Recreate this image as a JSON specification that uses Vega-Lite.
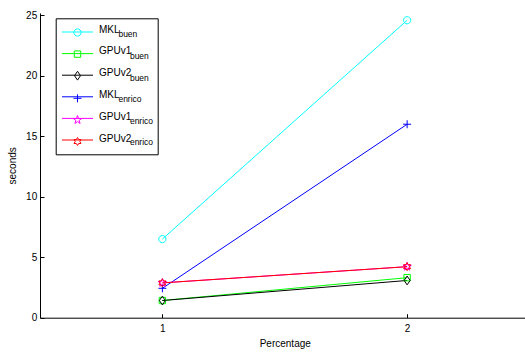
{
  "$schema": "https://vega.github.io/schema/vega-lite/v6.json",
  "width": 489.5,
  "height": 304.7,
  "autosize": "none",
  "padding": {"left": 40, "top": 13, "right": -4.5, "bottom": 36.3},
  "config": {
    "view": {"stroke": null},
    "font": "Liberation Sans",
    "axis": {
      "domainColor": "#000000", "tickColor": "#000000", "labelColor": "#000000", "titleColor": "#000000",
      "labelFont": "Liberation Sans", "titleFont": "Liberation Sans",
      "labelFontSize": 10, "titleFontSize": 10, "titleFontWeight": "normal",
      "grid": false, "domainWidth": 1, "tickWidth": 1, "labelFlush": false
    },
    "axisX": {"tickSize": -4, "labelPadding": 9.6, "titlePadding": 5},
    "axisY": {"tickSize": -4, "labelPadding": 7.3, "titlePadding": 7.7}
  },
  "datasets": {
    "main": [
      {"series": "MKL_buen", "x": 1, "y": 6.5},
      {"series": "MKL_buen", "x": 2, "y": 24.6},
      {"series": "GPUv1_buen", "x": 1, "y": 1.42},
      {"series": "GPUv1_buen", "x": 2, "y": 3.31},
      {"series": "GPUv2_buen", "x": 1, "y": 1.42},
      {"series": "GPUv2_buen", "x": 2, "y": 3.08},
      {"series": "MKL_enrico", "x": 1, "y": 2.43},
      {"series": "MKL_enrico", "x": 2, "y": 16.0},
      {"series": "GPUv1_enrico", "x": 1, "y": 2.88},
      {"series": "GPUv1_enrico", "x": 2, "y": 4.22},
      {"series": "GPUv2_enrico", "x": 1, "y": 2.88},
      {"series": "GPUv2_enrico", "x": 2, "y": 4.22}
    ],
    "entries": [
      {"entry": "MKL|buen"}, {"entry": "GPUv1|buen"}, {"entry": "GPUv2|buen"},
      {"entry": "MKL|enrico"}, {"entry": "GPUv1|enrico"}, {"entry": "GPUv2|enrico"}
    ]
  },
  "layer": [
    {
      "data": {"name": "main"},
      "mark": {"type": "line", "strokeWidth": 1},
      "encoding": {
        "x": {"field": "x", "type": "quantitative", "scale": {"domain": [0.5, 2.5], "nice": false}, "axis": {"values": [1, 2], "format": "d", "title": "Percentage"}},
        "y": {"field": "y", "type": "quantitative", "scale": {"domain": [0, 25.2], "nice": false}, "axis": {"values": [0, 5, 10, 15, 20, 25], "format": "d", "title": "seconds"}},
        "stroke": {"field": "series", "type": "nominal",
          "sort": ["MKL_buen", "GPUv1_buen", "GPUv2_buen", "MKL_enrico", "GPUv1_enrico", "GPUv2_enrico"],
          "scale": {"range": ["#00ffff", "#00ff00", "#000000", "#0000ff", "#ff00ff", "#ff0000"]},
          "legend": {
            "orient": "none", "legendX": 21.5, "legendY": 3, "title": null, "padding": 0,
            "symbolType": "stroke", "symbolSize": 961, "symbolStrokeWidth": 1, "symbolOffset": 0,
            "labelExpr": "'\u200b'", "labelFontSize": 10, "labelBaseline": "alphabetic", "labelOffset": 0,
            "rowPadding": 3.6
          }}
      }
    },
    {
      "data": {"name": "main"},
      "mark": {"type": "point", "filled": false, "size": 64, "strokeWidth": 1, "opacity": 1},
      "encoding": {
        "x": {"field": "x", "type": "quantitative"},
        "y": {"field": "y", "type": "quantitative"},
        "color": {"field": "series", "type": "nominal",
          "scale": {"domain": ["MKL_buen", "GPUv1_buen", "GPUv2_buen", "MKL_enrico", "GPUv1_enrico", "GPUv2_enrico"],
                    "range": ["#00ffff", "#00ff00", "#000000", "#0000ff", "#ff00ff", "#ff0000"]},
          "legend": {
            "orient": "none", "legendX": 32.5, "legendY": 14.5, "title": null, "padding": 0,
            "labelExpr": "split(datum.label, '_')[0]", "labelFontSize": 10, "labelColor": "#000000",
            "labelBaseline": "alphabetic", "labelOffset": 16.5, "symbolOffset": 0, "symbolSize": 64,
            "symbolStrokeWidth": 1, "rowPadding": 7.6
          }},
        "shape": {"field": "series", "type": "nominal", "legend": null,
          "scale": {"domain": ["MKL_buen", "GPUv1_buen", "GPUv2_buen", "MKL_enrico", "GPUv1_enrico", "GPUv2_enrico"],
            "range": [
              "M0.9,0A0.9,0.9 0 1,1 -0.9,0A0.9,0.9 0 1,1 0.9,0",
              "M-0.8,-0.8L0.8,-0.8L0.8,0.8L-0.8,0.8Z",
              "M0,-1.1L0.75,0L0,1.1L-0.75,0Z",
              "M-1,0L1,0M0,-1L0,1",
              "M0,-1.1L0.247,-0.34L1.046,-0.34L0.399,0.13L0.647,0.89L0,0.42L-0.647,0.89L-0.399,0.13L-1.046,-0.34L-0.247,-0.34Z",
              "M0,-1L0.289,-0.5L0.866,-0.5L0.577,0L0.866,0.5L0.289,0.5L0,1L-0.289,0.5L-0.866,0.5L-0.577,0L-0.866,-0.5L-0.289,-0.5Z"
            ]}}
      }
    },
    {
      "data": {"name": "entries"},
      "mark": {"type": "point", "opacity": 0, "filled": true},
      "encoding": {
        "fill": {"field": "entry", "type": "nominal",
          "scale": {"domain": ["MKL|buen", "GPUv1|buen", "GPUv2|buen", "MKL|enrico", "GPUv1|enrico", "GPUv2|enrico"]},
          "legend": {
            "orient": "none", "legendX": 15.7, "legendY": 5.3, "title": null, "padding": 3.7,
            "strokeColor": "#000000",
            "labelExpr": "split(datum.label, '|')[1]", "labelFontSize": 8.5, "labelColor": "#000000",
            "labelBaseline": "alphabetic", "labelOffset": 39, "symbolOffset": 0, "symbolSize": 400,
            "symbolType": "square", "symbolOpacity": 0, "symbolStrokeWidth": 0, "rowPadding": 1.6,
            "encode": {
              "labels": {"update": {
                "dx": {"signal": "indexof(datum.value, 'MKL') === 0 ? 0 : 11.5"},
                "dy": {"value": 5.3}
              }}}
          }}
      }
    }
  ]
}
